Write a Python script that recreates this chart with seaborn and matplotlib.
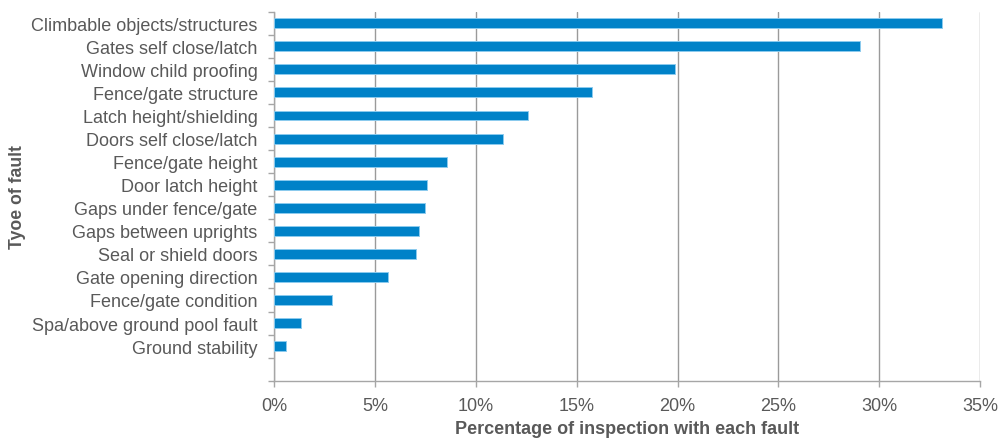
import matplotlib
matplotlib.use("Agg")
import matplotlib.pyplot as plt
import seaborn as sns
import pandas as pd
import numpy as np
from matplotlib.ticker import FixedLocator, PercentFormatter

categories = [
    "Climbable objects/structures",
    "Gates self close/latch",
    "Window child proofing",
    "Fence/gate structure",
    "Latch height/shielding",
    "Doors self close/latch",
    "Fence/gate height",
    "Door latch height",
    "Gaps under fence/gate",
    "Gaps between uprights",
    "Seal or shield doors",
    "Gate opening direction",
    "Fence/gate condition",
    "Spa/above ground pool fault",
    "Ground stability",
]
values = [33.1, 29.05, 19.85, 15.77, 12.6, 11.34, 8.54, 7.55, 7.46, 7.18, 7.02, 5.64, 2.85, 1.32, 0.6]
x_ticks = [0, 5, 10, 15, 20, 25, 30, 35]

sns.set_theme(style="white")
plt.rcParams["font.family"] = ["Liberation Sans", "DejaVu Sans"]

df = pd.DataFrame({"fault": categories, "pct": values})

fig = plt.figure(figsize=(9.98, 4.39), dpi=100)
ax = fig.add_axes([0.2749, 0.1305, 0.982 - 0.2749, 0.971 - 0.1305])

sns.barplot(data=df, y="fault", x="pct", order=categories, orient="h",
            color="#0082C8", saturation=1, width=0.43,
            edgecolor="#8ccbee", linewidth=0.7, ax=ax, zorder=3)

ax.set_xlim(0, 35)
ax.set_ylim(len(categories) + 0.5, -0.5)
ax.xaxis.set_major_locator(FixedLocator(x_ticks))
ax.xaxis.set_major_formatter(PercentFormatter(decimals=0))
ax.grid(axis="x", color="#9a9a9a", linewidth=1.0, zorder=0)
ax.grid(axis="y", visible=False)

for s in ["top", "right"]:
    ax.spines[s].set_visible(False)
for s in ["left", "bottom"]:
    ax.spines[s].set_visible(True)
    ax.spines[s].set_color("#a6a6a6")
    ax.spines[s].set_linewidth(1.0)

ax.yaxis.set_minor_locator(FixedLocator(np.arange(-0.5, len(categories) + 1, 1.0)))
ax.tick_params(axis="y", which="major", length=0, pad=12, labelsize=13, labelcolor="#595959")
ax.tick_params(axis="y", which="minor", length=4, color="#a6a6a6", width=1, left=True)
ax.tick_params(axis="x", which="major", length=4, color="#a6a6a6", width=1, bottom=True,
               pad=8, labelsize=13, labelcolor="#595959")

ax.set_xlabel("Percentage of inspection with each fault", fontsize=13, fontweight="bold",
              color="#595959", labelpad=4)
ax.set_ylabel("Tyoe of fault", fontsize=12.7, fontweight="bold", color="#595959")
ax.yaxis.set_label_coords(-0.352, 0.5)

fig.savefig("out.png", dpi=100)
